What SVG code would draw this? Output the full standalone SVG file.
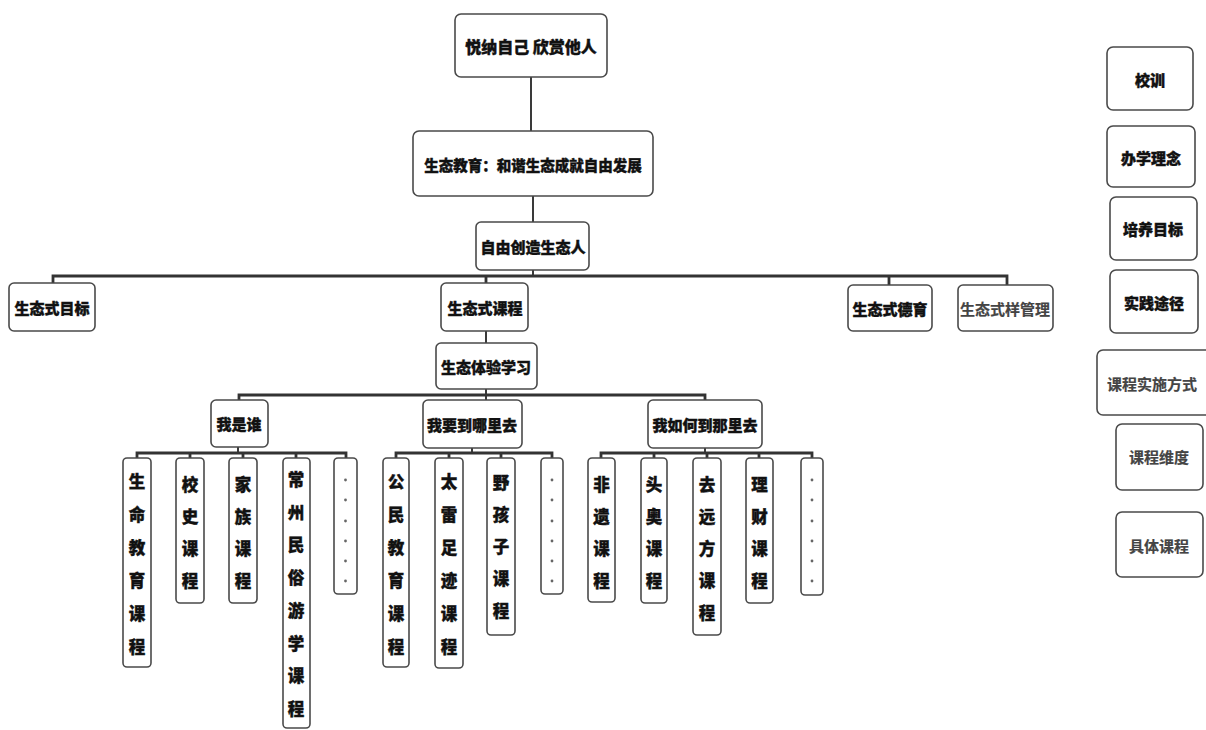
<svg xmlns="http://www.w3.org/2000/svg" width="1206" height="730" viewBox="0 0 1206 730">
<style>
.b{fill:#fff;stroke:#4a4a4a;stroke-width:1.6}
.t{font-family:"Noto Sans CJK SC","Noto Sans CJK JP",sans-serif;font-weight:900;font-size:15px;fill:#111;stroke:#111;stroke-width:0.4;text-anchor:middle;dominant-baseline:central}
.l{fill:#444;stroke:#444;stroke-width:0.2;font-weight:700}
.v{font-family:"Noto Sans CJK SC","Noto Sans CJK JP",sans-serif;font-weight:900;font-size:16.5px;fill:#111;stroke:#111;stroke-width:0.4;text-anchor:middle;dominant-baseline:central}
.c{fill:none;stroke:#3a3a3a;stroke-width:2}
.cb{fill:none;stroke:#333;stroke-width:2.8}
.d{fill:#666}
</style>
<rect width="1206" height="730" fill="#fff"/>
<g id="connectors">
<path class="c" d="M531,77V131M533,196V222M533,270V276"/>
<path class="cb" d="M53,283V276H1007V285M486,276V283M889,276V285"/>
<path class="c" d="M486,331V343M486,389V400"/>
<path class="cb" d="M239,400V395H705V400"/>
<path class="c" d="M238,447V453M472,448V453M705,448V453"/>
<path class="cb" d="M137,458V453H346V458M190,453V458M243,453V458M296,453V458"/>
<path class="cb" d="M396,458V453H552V458M449,453V458M501,453V458"/>
<path class="cb" d="M601,458V453H812V458M654,453V458M707,453V458M759,453V458"/>
</g>
<g id="n_top"><rect class="b" x="455" y="14" width="152" height="63" rx="6"/><text class="t" x="531" y="46" style="font-size:16px">悦纳自己 欣赏他人</text></g>
<g id="n_edu"><rect class="b" x="413" y="131" width="240" height="65" rx="6"/><text class="t" x="533" y="164" style="font-size:14.5px">生态教育：和谐生态成就自由发展</text></g>
<g id="n_ren"><rect class="b" x="476" y="222" width="113" height="48" rx="5"/><text class="t" x="533" y="246">自由创造生态人</text></g>
<g id="n_mubiao"><rect class="b" x="9" y="283" width="86" height="48" rx="5"/><text class="t" x="52" y="307">生态式目标</text></g>
<g id="n_kecheng"><rect class="b" x="441" y="283" width="87" height="48" rx="5"/><text class="t" x="485" y="307">生态式课程</text></g>
<g id="n_deyu"><rect class="b" x="848" y="285" width="84" height="46" rx="5"/><text class="t" x="890" y="308">生态式德育</text></g>
<g id="n_guanli"><rect class="b" x="958" y="285" width="95" height="46" rx="5"/><text class="t l" x="1005" y="308">生态式样管理</text></g>
<g id="n_tiyan"><rect class="b" x="436" y="343" width="101" height="46" rx="5"/><text class="t" x="486" y="366">生态体验学习</text></g>
<g id="n_shui"><rect class="b" x="211" y="400" width="57" height="47" rx="5"/><text class="t" x="239" y="423">我是谁</text></g>
<g id="n_qu"><rect class="b" x="423" y="400" width="99" height="48" rx="5"/><text class="t" x="472" y="424">我要到哪里去</text></g>
<g id="n_ruhe"><rect class="b" x="648" y="400" width="114" height="48" rx="5"/><text class="t" x="705" y="424">我如何到那里去</text></g>

<g id="n_shengming"><rect class="b" x="123" y="458" width="28" height="209" rx="4"/><text class="v"><tspan x="137" y="481">生</tspan><tspan x="137" dy="33">命</tspan><tspan x="137" dy="33">教</tspan><tspan x="137" dy="33">育</tspan><tspan x="137" dy="33">课</tspan><tspan x="137" dy="33">程</tspan></text></g>
<g id="n_xiaoshi"><rect class="b" x="176" y="458" width="28" height="145" rx="4"/><text class="v"><tspan x="190" y="484">校</tspan><tspan x="190" dy="32">史</tspan><tspan x="190" dy="32">课</tspan><tspan x="190" dy="32">程</tspan></text></g>
<g id="n_jiazu"><rect class="b" x="229" y="458" width="28" height="145" rx="4"/><text class="v"><tspan x="243" y="484">家</tspan><tspan x="243" dy="32">族</tspan><tspan x="243" dy="32">课</tspan><tspan x="243" dy="32">程</tspan></text></g>
<g id="n_changzhou"><rect class="b" x="283" y="458" width="27" height="270" rx="4"/><text class="v"><tspan x="296" y="479">常</tspan><tspan x="296" dy="32.7">州</tspan><tspan x="296" dy="32.7">民</tspan><tspan x="296" dy="32.7">俗</tspan><tspan x="296" dy="32.7">游</tspan><tspan x="296" dy="32.7">学</tspan><tspan x="296" dy="32.7">课</tspan><tspan x="296" dy="32.7">程</tspan></text></g>
<g id="n_dots1"><rect class="b" x="334" y="458" width="23" height="136" rx="4"/><g class="d"><circle cx="345.5" cy="480" r="1.4"/><circle cx="345.5" cy="500" r="1.4"/><circle cx="345.5" cy="521" r="1.4"/><circle cx="345.5" cy="541" r="1.4"/><circle cx="345.5" cy="561" r="1.4"/><circle cx="345.5" cy="581" r="1.4"/></g></g>

<g id="n_gongmin"><rect class="b" x="383" y="458" width="26" height="209" rx="4"/><text class="v"><tspan x="396" y="481">公</tspan><tspan x="396" dy="33">民</tspan><tspan x="396" dy="33">教</tspan><tspan x="396" dy="33">育</tspan><tspan x="396" dy="33">课</tspan><tspan x="396" dy="33">程</tspan></text></g>
<g id="n_tailei"><rect class="b" x="435" y="458" width="28" height="210" rx="4"/><text class="v"><tspan x="449" y="481">太</tspan><tspan x="449" dy="33">雷</tspan><tspan x="449" dy="33">足</tspan><tspan x="449" dy="33">迹</tspan><tspan x="449" dy="33">课</tspan><tspan x="449" dy="33">程</tspan></text></g>
<g id="n_yehaizi"><rect class="b" x="487" y="458" width="28" height="177" rx="4"/><text class="v"><tspan x="501" y="482">野</tspan><tspan x="501" dy="32">孩</tspan><tspan x="501" dy="32">子</tspan><tspan x="501" dy="32">课</tspan><tspan x="501" dy="32">程</tspan></text></g>
<g id="n_dots2"><rect class="b" x="541" y="458" width="22" height="136" rx="4"/><g class="d"><circle cx="552" cy="480" r="1.4"/><circle cx="552" cy="500" r="1.4"/><circle cx="552" cy="521" r="1.4"/><circle cx="552" cy="541" r="1.4"/><circle cx="552" cy="561" r="1.4"/><circle cx="552" cy="581" r="1.4"/></g></g>

<g id="n_feiyi"><rect class="b" x="588" y="458" width="27" height="144" rx="4"/><text class="v"><tspan x="601.5" y="484">非</tspan><tspan x="601.5" dy="32">遗</tspan><tspan x="601.5" dy="32">课</tspan><tspan x="601.5" dy="32">程</tspan></text></g>
<g id="n_touao"><rect class="b" x="641" y="458" width="26" height="145" rx="4"/><text class="v"><tspan x="654" y="484">头</tspan><tspan x="654" dy="32">奥</tspan><tspan x="654" dy="32">课</tspan><tspan x="654" dy="32">程</tspan></text></g>
<g id="n_yuanfang"><rect class="b" x="693" y="458" width="28" height="177" rx="4"/><text class="v"><tspan x="707" y="484">去</tspan><tspan x="707" dy="32">远</tspan><tspan x="707" dy="32">方</tspan><tspan x="707" dy="32">课</tspan><tspan x="707" dy="32">程</tspan></text></g>
<g id="n_licai"><rect class="b" x="746" y="458" width="27" height="145" rx="4"/><text class="v"><tspan x="759.5" y="484">理</tspan><tspan x="759.5" dy="32">财</tspan><tspan x="759.5" dy="32">课</tspan><tspan x="759.5" dy="32">程</tspan></text></g>
<g id="n_dots3"><rect class="b" x="801" y="458" width="22" height="137" rx="4"/><g class="d"><circle cx="812" cy="480" r="1.4"/><circle cx="812" cy="500" r="1.4"/><circle cx="812" cy="521" r="1.4"/><circle cx="812" cy="541" r="1.4"/><circle cx="812" cy="561" r="1.4"/><circle cx="812" cy="581" r="1.4"/></g></g>

<g id="r_xiaoxun"><rect class="b" x="1107" y="47" width="86" height="63" rx="6"/><text class="t" x="1150" y="79">校训</text></g>
<g id="r_linian"><rect class="b" x="1107" y="126" width="88" height="61" rx="6"/><text class="t" x="1151" y="157">办学理念</text></g>
<g id="r_mubiao"><rect class="b" x="1110" y="197" width="87" height="63" rx="6"/><text class="t" x="1153" y="228">培养目标</text></g>
<g id="r_tujing"><rect class="b" x="1110" y="270" width="88" height="63" rx="6"/><text class="t" x="1154" y="302">实践途径</text></g>
<g id="r_fangshi"><rect class="b" x="1097" y="350" width="115" height="65" rx="6"/><text class="t l" x="1152" y="383">课程实施方式</text></g>
<g id="r_weidu"><rect class="b" x="1116" y="424" width="87" height="66" rx="6"/><text class="t l" x="1159" y="456">课程维度</text></g>
<g id="r_juti"><rect class="b" x="1116" y="512" width="87" height="65" rx="6"/><text class="t l" x="1159" y="545">具体课程</text></g>
</svg>
